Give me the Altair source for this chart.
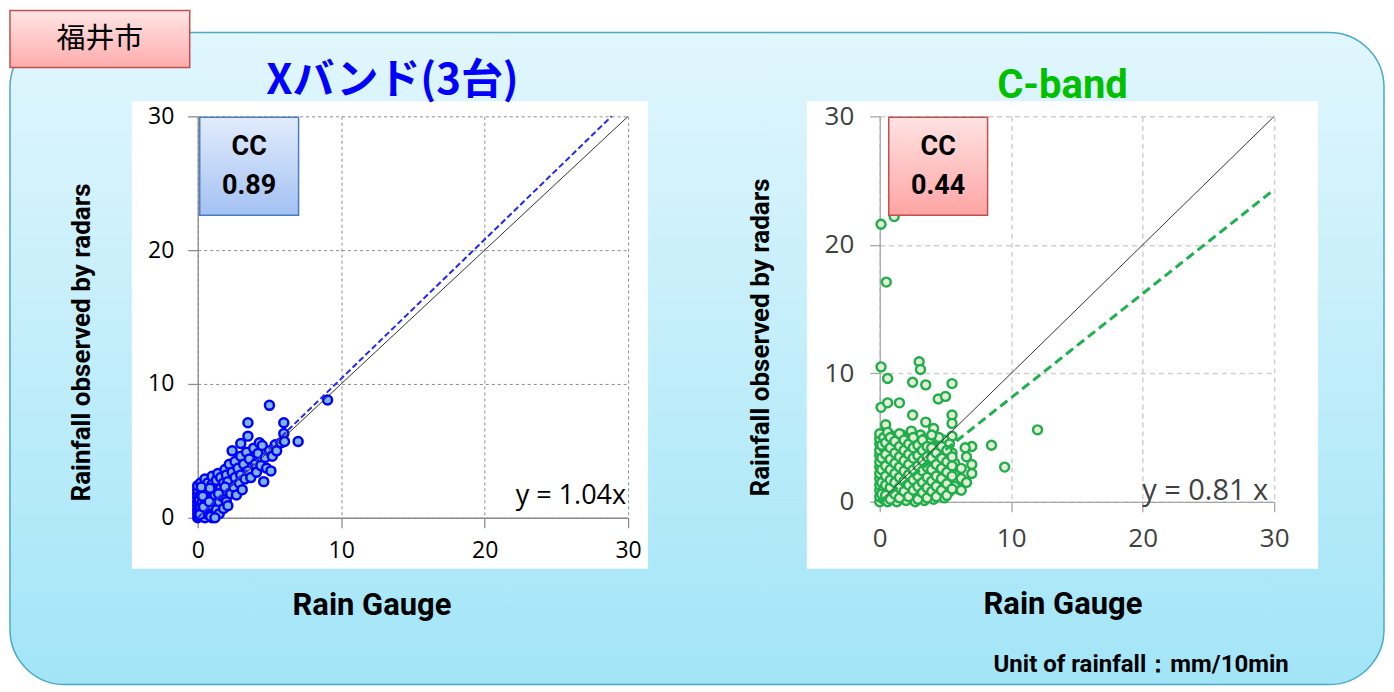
import altair as alt
import pandas as pd

# ---------------- data (mm/10min) ----------------
xband_gauge = [0, 0, 0, 0, 0, 0, 0, 0, 0,
               0.1, 0.1, 0.1, 0.1, 0.2, 0.2, 0.2, 0.2, 0.3, 0.3, 0.3,
               0.5, 0.5, 0.5, 0.5, 0.5, 0.5, 0.6, 0.6, 0.7, 0.7, 0.7,
               1.0, 1.0, 1.0, 1.0, 1.0, 1.0, 1.0, 1.1, 1.2, 1.2, 1.3, 1.3, 1.4,
               1.5, 1.5, 1.6, 1.6, 1.7, 1.8, 1.8, 1.9, 2.0, 2.0, 2.0, 2.1, 2.1, 2.2, 2.3, 2.4, 2.4,
               2.5, 2.6, 2.6, 2.7, 2.8, 2.9, 3.0, 3.0, 3.0, 3.1, 3.2, 3.3, 3.4, 3.5, 3.5, 3.5, 3.6, 3.7,
               3.9, 4.0, 4.1, 4.2, 4.3, 4.4, 4.5, 4.6, 4.7, 4.8, 5.0, 5.0, 5.1, 5.2, 5.4, 5.5,
               5.8, 6.0, 6.0, 6.05, 7.0, 9.05,
               0.15, 0.4, 0.35, 0.8, 0.9, 1.2, 0.25, 0.85, 1.45, 1.9]
xband_radar = [0, 0.3, 0.6, 0.9, 1.2, 1.5, 1.8, 2.1, 2.4,
               0.1, 0.5, 1.0, 1.4, 0.2, 0.8, 1.7, 2.6, 0.4, 1.1, 2.0,
               0, 0.5, 1.0, 1.5, 2.2, 2.9, 0.3, 1.3, 0.7, 1.9, 2.6,
               0, 0.4, 0.9, 1.4, 2.0, 2.5, 3.1, 0.2, 1.1, 1.7, 2.8, 0.6, 3.3,
               0.3, 1.2, 2.2, 3.0, 1.6, 0.7, 2.6, 3.6, 1.2, 2.0, 3.2, 0.9, 2.7, 4.0, 1.8, 3.4, 5.0,
               2.3, 3.0, 4.2, 1.7, 3.7, 2.6, 4.6, 5.55, 3.2, 2.1, 4.0, 2.9, 4.9, 3.5, 6.1, 7.1, 4.4, 3.0,
               5.2, 4.0, 3.4, 4.8, 5.6, 3.9, 5.4, 2.7, 4.5, 3.7, 8.4, 5.0, 3.5, 4.6, 5.45, 5.0,
               5.6, 6.3, 7.1, 5.7, 5.7, 8.8,
               0.25, 0.8, 1.6, 1.2, 0.1, 0.0, 2.3, 2.2, 1.8, 2.3]

cband_gauge = [0.1, 1.1, 0.5, 0.1, 0.6, 3.0, 3.1, 2.5, 3.5, 5.5, 4.45, 5.0, 0.1, 0.6, 1.5, 12.0,
               9.5, 8.5, 7.0, 7.0, 7.0, 5.5, 5.5, 2.5, 0.45, 3.5, 4.1, 6.0, 5.5, 4.9, 6.5, 5.5,
               0, 0, 0, 0, 0, 0, 0, 0, 0, 0, 0, 0, 0,
               0.3, 0.3, 0.3, 0.3, 0.3, 0.3, 0.3,
               0.6, 0.6, 0.6, 0.6, 0.6, 0.6, 0.6, 0.6,
               1.0, 1.0, 1.0, 1.0, 1.0, 1.0, 1.0,
               1.3, 1.3, 1.3, 1.3, 1.3, 1.3, 1.3,
               1.7, 1.7, 1.7, 1.7, 1.7, 1.7, 1.7,
               2.0, 2.0, 2.0, 2.0, 2.0, 2.0, 2.0,
               2.4, 2.4, 2.4, 2.4, 2.4, 2.4, 2.4,
               2.7, 2.7, 2.7, 2.7, 2.7, 2.7, 2.7,
               3.1, 3.1, 3.1, 3.1, 3.1, 3.1, 3.1,
               3.4, 3.4, 3.4, 3.4, 3.4, 3.4, 3.4,
               3.8, 3.8, 3.8, 3.8, 3.8, 3.8,
               4.1, 4.1, 4.1, 4.1, 4.1, 4.1,
               4.5, 4.5, 4.5, 4.5, 4.5, 4.5,
               4.9, 4.9, 4.9, 4.9, 4.9,
               5.3, 5.3, 5.3, 5.3, 5.3,
               5.7, 5.7, 5.7,
               6.2, 6.2, 6.2,
               6.6, 6.6,
               0.15, 0.15, 0.15, 0.15, 0.15,
               0.45, 0.45, 0.45, 0.45, 0.45, 0.45,
               0.8, 0.8, 0.8, 0.8, 0.8, 0.8, 0.8,
               1.15, 1.15, 1.15, 1.15, 1.15, 1.15,
               1.5, 1.5, 1.5, 1.5, 1.5, 1.5, 1.5,
               1.85, 1.85, 1.85, 1.85, 1.85, 1.85,
               2.2, 2.2, 2.2, 2.2, 2.2, 2.2,
               2.55, 2.55, 2.55, 2.55, 2.55, 2.55,
               2.9, 2.9, 2.9, 2.9, 2.9, 2.9,
               3.25, 3.25, 3.25, 3.25, 3.25, 3.25,
               3.6, 3.6, 3.6, 3.6, 3.6, 3.6,
               3.95, 3.95, 3.95, 3.95, 3.95, 3.95,
               4.3, 4.3, 4.3, 4.3, 4.3,
               4.7, 4.7, 4.7, 4.7, 4.7,
               5.1, 5.1, 5.1, 5.1, 5.1,
               5.5, 5.5, 5.5, 5.5]
cband_radar = [21.6, 22.2, 17.1, 10.5, 9.6, 10.9, 10.3, 9.3, 9.1, 9.2, 8.0, 8.2, 7.35, 7.7, 7.7, 5.6,
               2.7, 4.4, 4.3, 2.9, 2.2, 6.75, 6.1, 6.75, 6.0, 6.2, 5.7, 1.0, 5.1, 4.8, 4.2, 3.8,
               0, 0.4, 0.9, 1.3, 1.8, 2.2, 2.7, 3.1, 3.6, 4.0, 4.5, 4.9, 5.3,
               0.2, 1.0, 1.6, 2.4, 3.3, 4.2, 5.0,
               0, 0.7, 1.4, 2.0, 2.9, 3.8, 4.6, 5.4,
               0.3, 1.1, 1.9, 2.6, 3.4, 4.3, 5.1,
               0, 0.8, 1.5, 2.3, 3.0, 3.9, 4.7,
               0.4, 1.2, 2.0, 2.8, 3.6, 4.4, 5.2,
               0.1, 0.9, 1.7, 2.5, 3.3, 4.1, 4.9,
               0.5, 1.3, 2.1, 2.9, 3.7, 4.5, 5.5,
               0, 0.8, 1.6, 2.4, 3.2, 4.0, 4.8,
               0.4, 1.2, 2.0, 2.8, 3.6, 4.4, 5.2,
               0.1, 0.9, 1.7, 2.5, 3.3, 4.1, 4.9,
               0.5, 1.3, 2.2, 3.0, 3.9, 4.7,
               0.2, 1.0, 1.8, 2.6, 3.5, 4.3,
               0.6, 1.4, 2.3, 3.1, 4.0, 5.0,
               0.3, 1.1, 2.0, 2.8, 3.7,
               0.8, 1.7, 2.5, 3.4, 4.5,
               1.2, 2.1, 3.0,
               0.9, 1.8, 2.6,
               1.5, 3.5,
               0.6, 1.5, 2.5, 3.4, 4.4,
               0.5, 1.3, 2.0, 2.8, 3.7, 4.6,
               0.2, 1.1, 1.7, 2.5, 3.3, 4.2, 5.0,
               0.6, 1.5, 2.2, 3.0, 3.8, 4.7,
               0.3, 1.1, 1.9, 2.7, 3.5, 4.3, 5.3,
               0.8, 1.6, 2.4, 3.2, 4.0, 4.8,
               0.4, 1.3, 2.1, 2.9, 3.7, 4.5,
               0.9, 1.7, 2.5, 3.4, 4.2, 5.0,
               0.2, 1.2, 2.0, 2.8, 3.6, 4.4,
               0.7, 1.5, 2.4, 3.2, 4.0, 4.8,
               0.3, 1.1, 1.9, 2.7, 3.5, 4.3,
               0.8, 1.6, 2.5, 3.4, 4.2, 5.2,
               0.4, 1.2, 2.0, 2.9, 3.8,
               0.9, 1.8, 2.6, 3.4, 4.3,
               0.5, 1.4, 2.3, 3.1, 4.0,
               1.0, 2.0, 2.8, 3.5]

axis_ticks = [0, 10, 20, 30]
one_to_one = [0, 30]
xband_fit_gauge = [0, 28.85]
xband_fit_radar = [0, 30]
cband_fit_gauge = [0, 30]
cband_fit_radar = [0, 24.3]
panel_titles = ["Xバンド(3台)", "C-band"]
cc_values = ["0.89", "0.44"]
equations = ["y = 1.04x", "y = 0.81 x"]
city = "福井市"
unit_note = "Unit of rainfall：mm/10min"
x_title = "Rain Gauge"
y_title = "Rainfall observed by radars"

# ---------------- styling helpers ----------------
BOLD = "Roboto, sans-serif"
JP = "Noto Sans CJK JP, sans-serif"
NUM = "Open Sans, sans-serif"

one = pd.DataFrame({"k": [0]})


def grad(top, bottom):
    return alt.LinearGradient(
        gradient="linear",
        stops=[alt.GradientStop(color=top, offset=0), alt.GradientStop(color=bottom, offset=1)],
        x1=0, x2=0, y1=0, y2=1,
    )


def box(x, x2, y, y2, fill, stroke="transparent", sw=0, r=0):
    return alt.Chart(one).mark_rect(fill=fill, stroke=stroke, strokeWidth=sw, cornerRadius=r).encode(
        x=alt.value(x), x2=alt.value(x2), y=alt.value(y), y2=alt.value(y2)
    )


def label(text, x, y, **kw):
    return alt.Chart(one).mark_text(text=text, **kw).encode(x=alt.value(x), y=alt.value(y))


def make_panel(gauge, radar, fit_g, fit_r, w, h, st):
    scale = alt.Scale(domain=[0, 30], nice=False)
    common = dict(values=axis_ticks, grid=True, gridDash=st["dash"], gridColor=st["grid"],
                  gridWidth=st["gw"], domainColor=st["dom"], domainWidth=1.3,
                  tickColor=st["dom"], tickSize=10, tickWidth=1.3,
                  labelFont=NUM, labelFontSize=st["lfs"], labelColor=st["lc"],
                  titleFont=BOLD, titleFontWeight="bold", titleColor="black",
                  titleAlign="center", titleBaseline="middle")
    xax = alt.Axis(title=x_title, labelPadding=st["xlp"], labelFlush=False, titleFontSize=31,
                   titleX=st["xtx"], titleY=st["xty"], **common)
    yax = alt.Axis(title=y_title, labelPadding=st["ylp"], titleFontSize=26, titleAngle=270,
                   titleX=st["ytx"], titleY=st["yty"], **common)
    X = alt.X("gauge:Q", scale=scale, axis=xax)
    Y = alt.Y("radar:Q", scale=scale, axis=yax)
    pts = alt.Chart(pd.DataFrame({"gauge": gauge, "radar": radar})).mark_circle(
        size=81, fill=st["pf"], stroke=st["ps"], strokeWidth=st["psw"], opacity=1, fillOpacity=1
    ).encode(x=X, y=Y)
    diag = alt.Chart(pd.DataFrame({"gauge": one_to_one, "radar": one_to_one})).mark_line(
        color="#333333", strokeWidth=1
    ).encode(x=X, y=Y)
    fit = alt.Chart(pd.DataFrame({"gauge": fit_g, "radar": fit_r})).mark_line(
        color=st["fc"], strokeWidth=st["fw"], strokeDash=st["fd"]
    ).encode(x=X, y=Y)
    cc_box = box(st["bx"], st["bx"] + 99, 1, 99, grad(*st["bg"]), st["bs"], 1.5)
    cc1 = label("CC", st["bx"] + 49.5, 31, font=BOLD, fontSize=27, fontWeight="bold",
                align="center", baseline="middle", color="black")
    cc2 = label(st["cc"], st["bx"] + 49.5, 70, font=BOLD, fontSize=27, fontWeight="bold",
                align="center", baseline="middle", color="black")
    eq = label(st["eq"], st["ex"], st["ey"], font=NUM, fontSize=st["efs"], align="right",
               baseline="alphabetic", color=st["ec"])
    return alt.layer(pts, diag, fit, cc_box, cc1, cc2, eq).properties(width=w, height=h)


left = make_panel(
    xband_gauge, xband_radar, xband_fit_gauge, xband_fit_radar, 431, 402,
    dict(dash=[3, 3], grid="#8c8c8c", gw=1, dom="#8c8c8c", lfs=23, lc="black", xlp=12, ylp=14,
         xtx=174, xty=88, ytx=-116, yty=226,
         pf="#7db5e6", ps="#0000ff", psw=2.5, fc="#2525ff", fw=2, fd=[6, 3],
         bx=2, bg=("#e2ecfd", "#a3c1f2"), bs="#4a7ebb", cc=cc_values[0],
         eq=equations[0], ex=429, ey=388, efs=27, ec="black"),
)

right = make_panel(
    cband_gauge, cband_radar, cband_fit_gauge, cband_fit_radar, 395, 386,
    dict(dash=[5, 4], grid="#cfcfcf", gw=1.5, dom="#a6a6a6", lfs=26, lc="#404040", xlp=14, ylp=16,
         xtx=183, xty=103, ytx=-119, yty=221,
         pf="#e4eed6", ps="#1fae4b", psw=2.4, fc="#1fb050", fw=3, fd=[9, 5],
         bx=9, bg=("#ffe3e3", "#ffa4a4"), bs="#c0504d", cc=cc_values[1],
         eq=equations[1], ex=389, ey=384, efs=29, ec="#404040"),
)

# background decorations; this 1px cell sits at the chart's left edge, level with the plot tops
bg = alt.layer(
    box(0, 1376, -84, 569, grad("#e1f6fd", "#a2e5f7"), "#4aaac6", 1.5, 55),
    box(122, 639, -15, 453, "white"),
    box(798, 1310, -15, 453, "white"),
    box(0, 180, -106, -49, grad("#ffe6e6", "#ffabab"), "#c0504d", 1.5),
    label(city, 90, -77, font=JP, fontSize=29, align="center", baseline="middle", color="black"),
    label(panel_titles[0], 383, -22, font=JP, fontSize=42, fontWeight="bold", align="center",
          baseline="alphabetic", color="#0000ff"),
    label(panel_titles[1], 1054, -18, font=BOLD, fontSize=40, fontWeight="bold", align="center",
          baseline="alphabetic", color="#00c000"),
    label(unit_note, 985, 556, font=BOLD, fontSize=24, fontWeight="bold", align="left",
          baseline="alphabetic", color="black"),
).properties(width=1, height=1)

panels = alt.hconcat(left, right, spacing=252, bounds="flush")

chart = alt.hconcat(bg, panels, spacing=187, bounds="flush").properties(
    padding=0
).configure_view(stroke="transparent")

chart.save("out.html", embed_options={"renderer": "svg", "actions": False})
